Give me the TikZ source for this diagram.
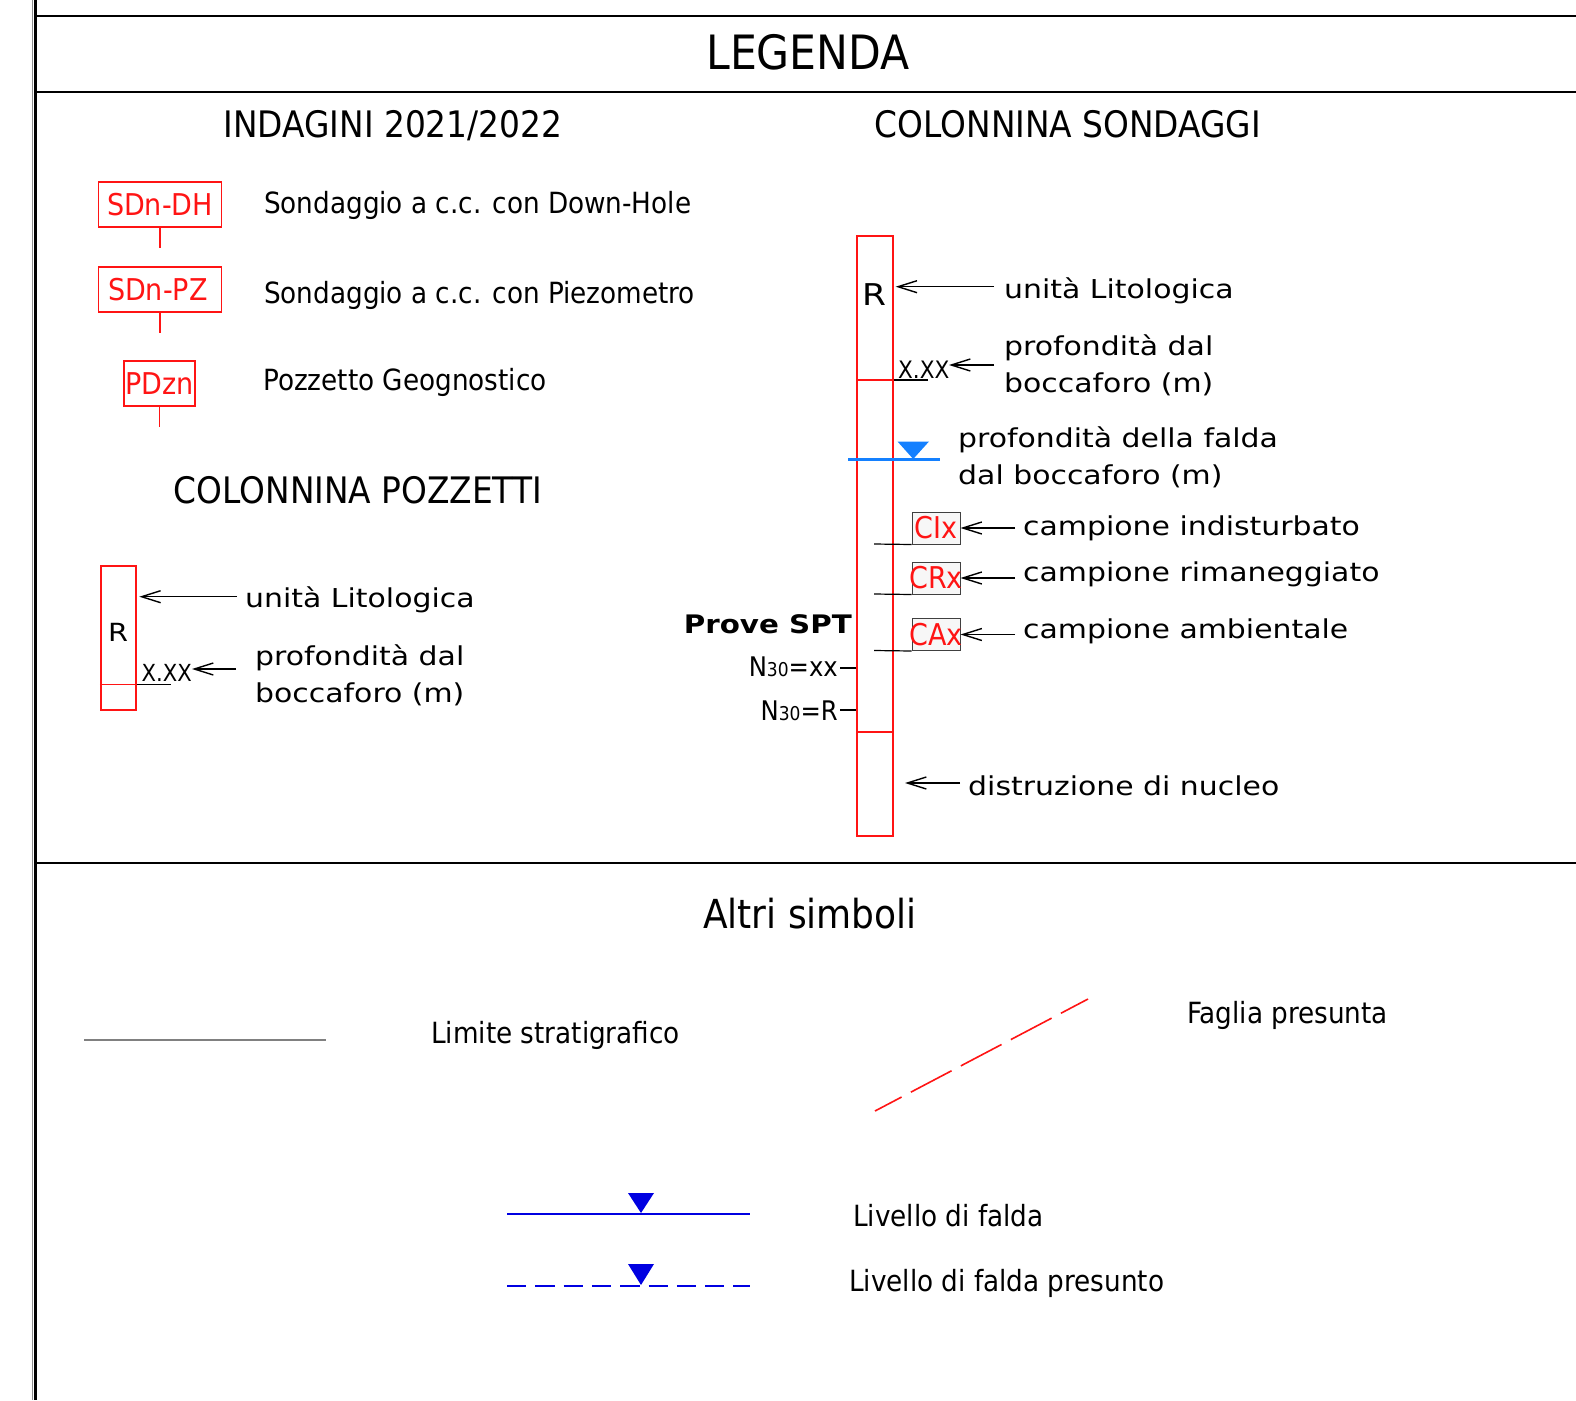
\documentclass[tikz,border=0pt]{standalone}
\usepackage{fontspec}
\setmainfont{DejaVu Sans Condensed}
\newfontfamily\verd[FakeStretch=1.15]{DejaVu Sans}
\usetikzlibrary{arrows.meta}
\definecolor{cartRed}{RGB}{255,20,20}
\definecolor{faldaBlue}{RGB}{20,128,255}
\definecolor{symBlue}{RGB}{0,0,225}
\tikzset{>={Straight Barb[length=19pt,width=12pt]}}
\tikzset{
  txt/.style={anchor=base west,inner sep=0pt,font=\fontsize{29.2}{35}\selectfont},
  vtxt/.style={anchor=base west,inner sep=0pt,align=left,font=\verd\fontsize{26}{36.5}\selectfont},
  title/.style={anchor=base,inner sep=0pt,font=\fontsize{36.5}{42}\selectfont},
  sigla/.style={draw=cartRed,line width=1.5pt,text=cartRed,inner sep=0pt,font=\fontsize{30}{36}\selectfont},
  campione/.style={draw=black!75,fill=black!3,line width=1pt,text=cartRed,inner sep=0pt,minimum width=48pt,minimum height=32pt,font=\fontsize{30}{36}\selectfont},
  colonna/.style={draw=cartRed,line width=1.6pt,inner sep=0pt},
  freccia/.style={->,line width=1.4pt}
}

\begin{document}
\begin{tikzpicture}[x=1pt,y=-1pt]
\useasboundingbox (0,0) rectangle (1576,1400);

% cornice
\draw [black!45,line width=1pt] (32.5,0) -- (32.5,1400);
\draw [line width=3pt] (35.5,0) -- (35.5,1400);
\draw [line width=2pt] (37,16) -- (1576,16);
\draw [line width=1.5pt] (37,92) -- (1576,92);
\draw [line width=2.5pt] (37,863) -- (1576,863);

% titoli
\node (T) at (808,69.3) [title,font=\fontsize{47.3}{54}\selectfont] {LEGENDA};
\node (T1) at (393,137) [title] {INDAGINI 2021/2022};
\node (T2) at (1068,137) [title] {COLONNINA SONDAGGI};
\node (T3) at (358,503) [title] {COLONNINA POZZETTI};
\node (T4) at (810,928.3) [title,font=\fontsize{40}{48}\selectfont] {Altri simboli};

% indagini
\node (S1) at (160,204.5) [sigla,minimum width=123pt,minimum height=45pt] {SDn-DH};
\node (S2) at (160,289.5) [sigla,minimum width=123pt,minimum height=45pt,text width=104pt] {SDn-PZ};
\node (S3) at (159.5,383.5) [sigla,minimum width=71pt,minimum height=45pt] {PDzn};
\draw [cartRed,line width=1.5pt] (S1.south) -- ++(0,20);
\draw [cartRed,line width=1.5pt] (S2.south) -- ++(0,20);
\draw [cartRed,line width=1.5pt] (S3.south) -- ++(0,20);
\node (D1) at (264,213) [txt] {Sondaggio a c.c. con Down-Hole};
\node (D2) at (264,303) [txt] {Sondaggio a c.c. con Piezometro};
\node (D3) at (263,390.7) [txt] {Pozzetto Geognostico};

% colonnina pozzetti
\node (P) at (118.2,637.9) [colonna,minimum width=35pt,minimum height=144.3pt] {};
\draw [cartRed,line width=1.5pt] (P.west |- 0,684.3) -- (P.east |- 0,684.3);
\node (PR) at (118,641.5) [anchor=base,inner sep=0pt,font=\verd\fontsize{25}{30}\selectfont] {R};
\node (PX) at (141.5,681.7) [txt,font=\fontsize{23.5}{28}\selectfont] {X.XX};
\draw [line width=1.2pt] (P.east |- 0,684.3) -- (171,684.3);
\node (PL) at (245,607) [vtxt] {unità Litologica};
\node (PP) at (255,702) [vtxt] {profondità dal\\boccaforo (m)};
\coordinate (pl) at (139.3,596.7);
\coordinate (pp) at (192,669);
\draw [freccia] (PL.west |- pl) ++(-8,0) -- (pl);
\draw [freccia] (PP.west |- pp) ++(-19,0) -- (pp);

% colonnina sondaggi
\node (C) at (875,536) [colonna,minimum width=36pt,minimum height=600pt] {};
\draw [cartRed,line width=1.5pt] (C.west |- 0,380) -- (C.east |- 0,380);
\draw [cartRed,line width=1.5pt] (C.west |- 0,732) -- (C.east |- 0,732);
\node (CR) at (874.5,305) [anchor=base,inner sep=0pt,font=\verd\fontsize{30}{36}\selectfont] {R};
\node (CX) at (898,378) [txt,font=\fontsize{24}{30}\selectfont] {X.XX};
\draw [line width=1.2pt] (C.east |- 0,380) -- (928,380);
\node (CL) at (1004,298.3) [vtxt] {unità Litologica};
\node (CP) at (1004,392) [vtxt] {profondità dal\\boccaforo (m)};
\node (CF) at (958,484) [vtxt] {profondità della falda\\dal boccaforo (m)};
\coordinate (cl) at (895.7,286.7);
\coordinate (cp) at (949,365);
\draw [freccia] (CL.west |- cl) ++(-10,0) -- (cl);
\draw [freccia] (CP.west |- cp) ++(-10,0) -- (cp);

% falda nella colonnina
\draw [faldaBlue,line width=2.5pt] (848,459.5) -- (940,459.5);
\fill [faldaBlue] (897.5,441.5) -- (929,441.5) -- (913.2,459) -- cycle;

% campioni
\node (K1) at (936,528) [campione] {\makebox[0pt]{CIx}};
\node (K2) at (936,578) [campione] {\makebox[0pt]{CRx}};
\node (K3) at (936,634.5) [campione] {\makebox[0pt]{CAx}};
\draw [line width=1.2pt] (K1.south west) -- (874,544);
\draw [line width=1.2pt] (K2.south west) -- (874,594);
\draw [line width=1.2pt] (K3.south west) -- (874,650.5);
\node (L1) at (1023,535) [vtxt] {campione indisturbato};
\node (L2) at (1023,581.7) [vtxt] {campione rimaneggiato};
\node (L3) at (1023,638.3) [vtxt] {campione ambientale};
\draw [freccia] (L1.west |- K1.east) ++(-8,0) -- (K1.east);
\draw [freccia] (L2.west |- K2.east) ++(-8,0) -- (K2.east);
\draw [freccia] (L3.west |- K3.east) ++(-8,0) -- (K3.east);

% prove SPT
\node (SPT) at (852,633) [anchor=base east,inner sep=0pt,font=\verd\bfseries\fontsize{25.5}{32}\selectfont] {Prove SPT};
\node (N1) at (838,676.7) [anchor=base east,inner sep=0pt,font=\fontsize{27}{32}\selectfont] {N{\fontsize{19}{22}\selectfont 30}=xx};
\node (N2) at (838,720) [anchor=base east,inner sep=0pt,font=\fontsize{27}{32}\selectfont] {N{\fontsize{19}{22}\selectfont 30}=R};
\draw [line width=1.2pt] (N1.east |- 0,668) ++(2,0) -- (C.west |- 0,668);
\draw [line width=1.2pt] (N2.east |- 0,710) ++(2,0) -- (C.west |- 0,710);

% distruzione di nucleo
\node (DN) at (968,795) [vtxt] {distruzione di nucleo};
\coordinate (dn) at (905,783);
\draw [freccia] (DN.west |- dn) ++(-8,0) -- (dn);

% altri simboli
\coordinate (ls1) at (84,1040);
\coordinate (ls2) at (326,1040);
\draw [black!50,line width=1.3pt] (ls1) -- (ls2);
\node (LS) at (431,1043) [txt] {Limite stratigrafico};

\coordinate (fg1) at (875,1111);
\coordinate (fg2) at (1088,999);
\draw [cartRed,line width=1.6pt,dash pattern=on 46pt off 10.5pt,dash phase=16pt] (fg1) -- (fg2);
\node (FG) at (1187,1023) [txt] {Faglia presunta};

\coordinate (lf1) at (507,1214);
\coordinate (lf2) at (750,1214);
\draw [symBlue,line width=1.6pt] (lf1) -- (lf2);
\fill [symBlue] (628,1193) -- (654,1193) -- (641,1213) -- cycle;
\node (LF) at (853,1226) [txt] {Livello di falda};

\coordinate (lp1) at (507,1286);
\coordinate (lp2) at (750,1286);
\draw [symBlue,line width=1.6pt,dash pattern=on 19.3pt off 9pt] (lp1) -- (lp2);
\fill [symBlue] (628,1264) -- (654,1264) -- (641,1285) -- cycle;
\node (LP) at (849,1291) [txt] {Livello di falda presunto};

\end{tikzpicture}
\end{document}
